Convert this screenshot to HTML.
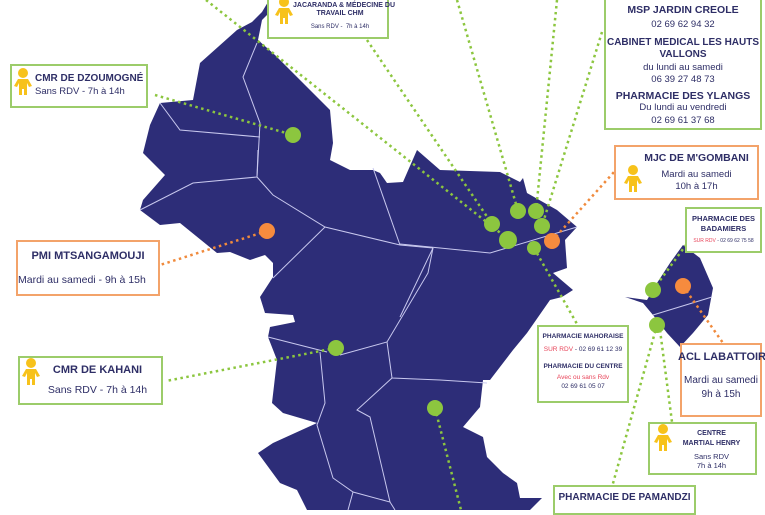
<!DOCTYPE html>
<html><head><meta charset="utf-8"><style>
body{margin:0;width:765px;height:510px;overflow:hidden;background:#fff;position:relative;font-family:"Liberation Sans",sans-serif;color:#2e2e66}
.b{position:absolute;box-sizing:border-box;background:#fff;text-align:center;line-height:1.2;white-space:nowrap}
.g{border:2px solid #9ccc6a}
.o{border:2px solid #f3a36a}
.t{font-weight:bold}
.r{color:#e8455a}
svg{position:absolute;left:0;top:0}
</style></head><body>
<svg width="765" height="510" viewBox="0 0 765 510">
<g fill="#2d2d78">
<path d="M237,30 L252,22 L262,12 L268,2 L275,0 L272,10 L262,20 L258,40 L275,55 L300,80 L330,110 L333,143 L330,160 L350,170 L373,170 L380,173 L387,183 L403,182 L417,150 L440,170 L500,172 L520,182 L523,178 L527,193 L557,210 L577,227 L565,240 L567,268 L553,273 L573,290 L562,297 L550,300 L527,333 L513,350 L490,380 L483,380 L480,407 L463,427 L483,437 L487,457 L503,473 L517,483 L520,498 L542,498 L530,510 L307,510 L297,490 L280,483 L258,453 L273,443 L317,423 L283,413 L272,403 L277,360 L268,337 L270,327 L295,322 L293,315 L265,313 L260,297 L273,277 L273,263 L265,255 L250,260 L230,252 L217,253 L180,223 L160,225 L140,210 L143,200 L165,175 L143,153 L150,125 L160,103 L193,100 L200,63 Z"/>
<path d="M683,245 L700,258 L713,288 L708,315 L693,333 L680,347 L667,333 L653,315 L643,303 L625,297 L647,300 L657,283 L670,263 Z"/>
</g>
<g fill="none" stroke="#c8c8ee" stroke-width="1">
<path d="M140,210 L193,183 L257,177 L258,150"/>
<path d="M257,177 L273,195 L325,227 L400,245 L433,248"/>
<path d="M325,227 L273,278"/>
<path d="M373,168 L400,245"/>
<path d="M433,248 L428,273 L387,342 L340,355"/>
<path d="M268,337 L327,352"/>
<path d="M320,352 L325,403 L317,425 L333,478 L353,492 L390,502 L395,510"/>
<path d="M387,342 L392,378 L440,380 L487,383"/>
<path d="M392,378 L357,410 L370,417 L390,502"/>
<path d="M353,492 L348,510"/>
<path d="M160,103 L180,130 L260,137"/>
<path d="M257,43 L243,77 L260,123 L257,177"/>
<path d="M400,244 L490,253 L577,227"/>
<path d="M433,248 L400,317"/>
<path d="M653,315 L712,297"/>
</g>
<g stroke="#8cc63f" stroke-width="2.5" stroke-dasharray="2.5 3.5" fill="none">
<line x1="206" y1="0" x2="508" y2="239"/>
<line x1="155" y1="95" x2="293" y2="135"/>
<line x1="367" y1="40" x2="492" y2="224"/>
<line x1="457" y1="0" x2="518" y2="211"/>
<line x1="557" y1="0" x2="536" y2="211"/>
<line x1="602" y1="32" x2="542" y2="226"/>
<line x1="534" y1="248" x2="577" y2="324"/>
<line x1="653" y1="290" x2="686" y2="245"/>
<line x1="657" y1="325" x2="612" y2="487"/>
<line x1="660" y1="330" x2="672" y2="422"/>
<line x1="336" y1="348" x2="166" y2="381"/>
<line x1="435" y1="408" x2="461" y2="510"/>
</g>
<g stroke="#f08a3c" stroke-width="2.5" stroke-dasharray="2.5 3.5" fill="none">
<line x1="267" y1="231" x2="160" y2="265"/>
<line x1="552" y1="241" x2="614" y2="172"/>
<line x1="683" y1="286" x2="723" y2="343"/>
</g>
<g fill="#8cc63f">
<circle cx="293" cy="135" r="8"/><circle cx="492" cy="224" r="8"/><circle cx="518" cy="211" r="8"/><circle cx="536" cy="211" r="8"/><circle cx="542" cy="226" r="8"/><circle cx="508" cy="240" r="9"/><circle cx="534" cy="248" r="7"/><circle cx="336" cy="348" r="8"/><circle cx="435" cy="408" r="8"/><circle cx="653" cy="290" r="8"/><circle cx="657" cy="325" r="8"/>
</g>
<g fill="#f68b3e"><circle cx="267" cy="231" r="8"/><circle cx="552" cy="241" r="8"/><circle cx="683" cy="286" r="8"/></g>
<defs><g id="p" fill="#f7c21b"><circle cx="0" cy="-8" r="5"/><path d="M-5,-2 L5,-2 L9,5 L6,6 L4,2 L4,14 L1,14 L1,8 L-1,8 L-1,14 L-4,14 L-4,2 L-6,6 L-9,5 Z"/></g></defs>
</svg>
<div class="b g" style="left:267px;top:-4px;width:122px;height:43px;padding-left:24px"><div class="t" style="font-size:7px;margin-top:4px">JACARANDA &amp; MÉDECINE DU<br>TRAVAIL CHM</div><div style="font-size:6px;margin-top:5px">Sans RDV -&nbsp; 7h à 14h</div></div>
<div class="b g" style="left:10px;top:64px;width:138px;height:44px;text-align:left;padding:7px 0 0 23px"><div class="t" style="font-size:10px">CMR DE DZOUMOGNÉ</div><div style="font-size:9.5px;margin-top:1px">Sans RDV - 7h à 14h</div></div>
<div class="b o" style="left:16px;top:240px;width:144px;height:56px"><div class="t" style="font-size:11px;margin-top:8px">PMI MTSANGAMOUJI</div><div style="font-size:10.5px;margin-top:11px;text-align:left">Mardi au samedi - 9h à 15h</div></div>
<div class="b g" style="left:18px;top:356px;width:145px;height:49px"><div class="t" style="font-size:11px;margin-top:6px;padding-left:14px">CMR DE KAHANI</div><div style="font-size:10.5px;margin-top:7px;padding-left:14px">Sans RDV - 7h à 14h</div></div>
<div class="b g" style="left:604px;top:-4px;width:158px;height:134px"><div class="t" style="font-size:10.5px;margin-top:6px">MSP JARDIN CREOLE</div><div style="font-size:9.5px;margin-top:2px">02 69 62 94 32</div><div class="t" style="font-size:10px;margin-top:7px;line-height:1.25">CABINET MEDICAL LES HAUTS<br>VALLONS</div><div style="font-size:9.5px;line-height:1.3">du lundi au samedi<br>06 39 27 48 73</div><div class="t" style="font-size:10.5px;margin-top:3px">PHARMACIE DES YLANGS</div><div style="font-size:9.5px;line-height:1.35">Du lundi au vendredi<br>02 69 61 37 68</div></div>
<div class="b o" style="left:614px;top:145px;width:145px;height:55px;padding-left:20px"><div class="t" style="font-size:10.5px;margin-top:5px">MJC DE M'GOMBANI</div><div style="font-size:9.5px;margin-top:4px;line-height:1.3">Mardi au samedi<br>10h à 17h</div></div>
<div class="b g" style="left:685px;top:207px;width:77px;height:46px"><div class="t" style="font-size:7.5px;margin-top:5px;line-height:1.3">PHARMACIE DES<br>BADAMIERS</div><div style="font-size:5px;margin-top:4px"><span class="r">SUR RDV</span> - 02 69 62 75 58</div></div>
<div class="b g" style="left:537px;top:325px;width:92px;height:78px"><div class="t" style="font-size:6.5px;margin-top:6px">PHARMACIE MAHORAISE</div><div style="font-size:6.5px;margin-top:5px"><span class="r">SUR RDV</span> - 02 69 61 12 39</div><div class="t" style="font-size:6.5px;margin-top:9px">PHARMACIE DU CENTRE</div><div class="r" style="font-size:6.5px;margin-top:4px">Avec ou sans Rdv</div><div style="font-size:6.5px;margin-top:1px">02 69 61 05 07</div></div>
<div class="b o" style="left:680px;top:343px;width:82px;height:74px"><div class="t" style="font-size:11px;margin-top:6px;margin-left:-4px">ACL LABATTOIR</div><div style="font-size:10px;margin-top:10px;line-height:1.35">Mardi au samedi<br>9h à 15h</div></div>
<div class="b g" style="left:648px;top:422px;width:109px;height:53px;padding-left:18px"><div class="t" style="font-size:7px;margin-top:5px;line-height:1.4">CENTRE<br>MARTIAL HENRY</div><div style="font-size:7.5px;margin-top:3px;line-height:1.3">Sans RDV<br>7h à 14h</div></div>
<div class="b g" style="left:553px;top:485px;width:143px;height:30px"><div class="t" style="font-size:10px;margin-top:5px">PHARMACIE DE PAMANDZI</div></div>
<svg width="765" height="510" viewBox="0 0 765 510" style="pointer-events:none">
<use href="#p" x="284" y="10"/>
<use href="#p" x="23" y="81"/>
<use href="#p" x="31" y="371"/>
<use href="#p" x="633" y="178"/>
<use href="#p" x="663" y="437"/>
</svg>
</body></html>
